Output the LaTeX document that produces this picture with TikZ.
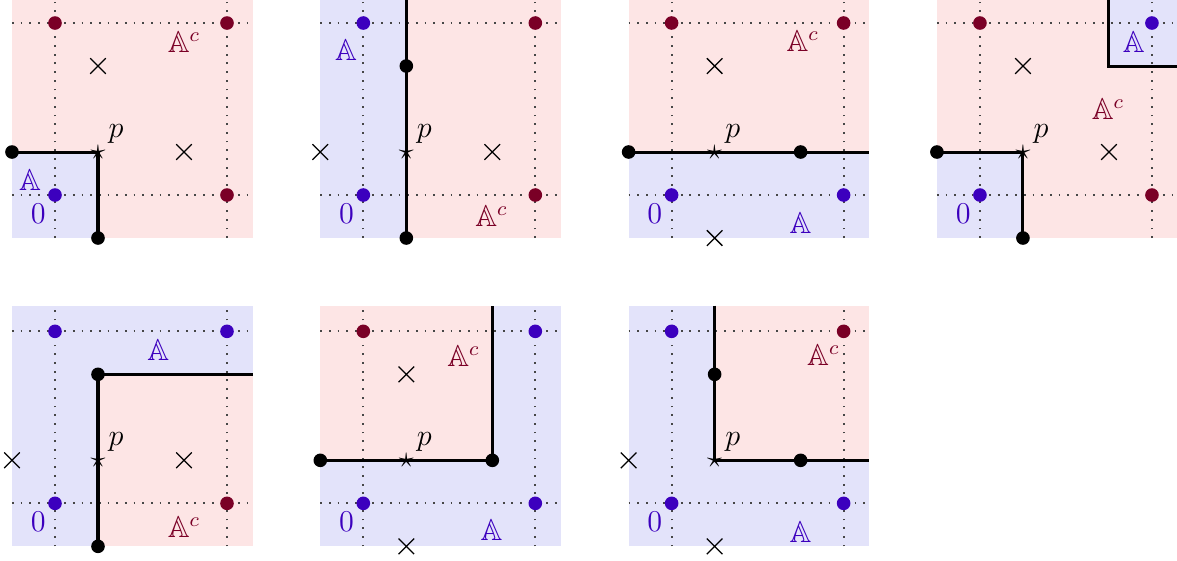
\documentclass[tikz,border=0pt]{standalone}
\usepackage{amssymb}
\usetikzlibrary{shapes.misc}
\definecolor{fillA}{RGB}{227,227,250}
\definecolor{fillC}{RGB}{253,229,229}
\definecolor{colA}{RGB}{60,0,190}
\definecolor{colC}{RGB}{122,0,38}
\definecolor{gridgray}{RGB}{70,70,70}
\tikzset{
  gridln/.style={gridgray, line width=0.7pt, dash pattern=on 0.7pt off 2.75pt},
  bound/.style={black, line width=1.2pt},
  bdot/.style={circle, fill=black, inner sep=0pt, minimum size=0.19cm},
  adot/.style={circle, fill=colA, inner sep=0pt, minimum size=0.19cm},
  cdot/.style={circle, fill=colC, inner sep=0pt, minimum size=0.19cm},
  xmark/.style={cross out, draw=black, line width=0.5pt, inner sep=0pt, minimum size=0.2cm},
  starmark/.style={inner sep=0pt, font=\large},
  labA/.style={text=colA, inner sep=0pt, font=\large},
  labC/.style={text=colC, inner sep=0pt, font=\large},
  plab/.style={inner sep=0pt, font=\large},
}
\newcommand\mygrid{%
  \draw[gridln] (-1,0) -- (4.6,0) (-1,4) -- (4.6,4) (0,-1) -- (0,4.6) (4,-1) -- (4,4.6);}
\newcommand\mycommon[1]{%
  \node[starmark] (p#1) at (1,1) {$\star$};
  \node[plab] (pl#1) at (1.42,1.42) {$p$};
  \node[labA] (zero#1) at (-0.39,-0.44) {$0$};}
\begin{document}
\begin{tikzpicture}[x=0.6cm,y=0.6cm]
\useasboundingbox (-1.279,-8.488) rectangle (26.093,4.535);

% ---------- Panel 1 ----------
\begin{scope}[shift={(0,0)}]
  \fill[fillC] (-1,-1) rectangle (4.6,4.6);
  \fill[fillA] (-1,-1) rectangle (1,1);
  \mygrid
  \node[bdot] (l1) at (-1,1) {};
  \node[bdot] (b1) at (1,-1) {};
  \coordinate (c1) at (1,1);
  \draw[bound] (l1.center) -- (c1) -- (b1.center);
  \node[adot] (o1) at (0,0) {};
  \node[cdot] (r1) at (4,0) {};
  \node[cdot] (t1) at (0,4) {};
  \node[cdot] (tr1) at (4,4) {};
  \node[xmark] (xa1) at (1,3) {};
  \node[xmark] (xb1) at (3,1) {};
  \mycommon{1}
  \node[labA] (A1) at (-0.58,0.35) {$\mathbb{A}$};
  \node[labC] (C1) at (3.0,3.55) {$\mathbb{A}^c$};
\end{scope}

% ---------- Panel 2 ----------
\begin{scope}[shift={(7.17,0)}]
  \fill[fillA] (-1,-1) rectangle (4.6,4.6);
  \fill[fillC] (1,-1) rectangle (4.6,4.6);
  \mygrid
  \node[bdot] (b2) at (1,-1) {};
  \node[bdot] (u2) at (1,3) {};
  \coordinate (top2) at (1,4.6);
  \draw[bound] (b2.center) -- (top2);
  \node[adot] (o2) at (0,0) {};
  \node[cdot] (r2) at (4,0) {};
  \node[adot] (t2) at (0,4) {};
  \node[cdot] (tr2) at (4,4) {};
  \node[xmark] (xa2) at (-1,1) {};
  \node[xmark] (xb2) at (3,1) {};
  \mycommon{2}
  \node[labA] (A2) at (-0.4,3.37) {$\mathbb{A}$};
  \node[labC] (C2) at (2.98,-0.5) {$\mathbb{A}^c$};
\end{scope}

% ---------- Panel 3 ----------
\begin{scope}[shift={(14.34,0)}]
  \fill[fillC] (-1,-1) rectangle (4.6,4.6);
  \fill[fillA] (-1,-1) rectangle (4.6,1);
  \mygrid
  \node[bdot] (l3) at (-1,1) {};
  \node[bdot] (m3) at (3,1) {};
  \coordinate (e3) at (4.6,1);
  \draw[bound] (l3.center) -- (e3);
  \node[adot] (o3) at (0,0) {};
  \node[adot] (r3) at (4,0) {};
  \node[cdot] (t3) at (0,4) {};
  \node[cdot] (tr3) at (4,4) {};
  \node[xmark] (xa3) at (1,3) {};
  \node[xmark] (xb3) at (1,-1) {};
  \mycommon{3}
  \node[labA] (A3) at (3.0,-0.65) {$\mathbb{A}$};
  \node[labC] (C3) at (3.05,3.57) {$\mathbb{A}^c$};
\end{scope}

% ---------- Panel 4 ----------
\begin{scope}[shift={(21.51,0)}]
  \fill[fillC] (-1,-1) rectangle (4.6,4.6);
  \fill[fillA] (-1,-1) rectangle (1,1);
  \fill[fillA] (3,3) rectangle (4.6,4.6);
  \mygrid
  \node[bdot] (l4) at (-1,1) {};
  \node[bdot] (b4) at (1,-1) {};
  \coordinate (c4) at (1,1);
  \draw[bound] (l4.center) -- (c4) -- (b4.center);
  \coordinate (ut4) at (3,4.6);
  \coordinate (uc4) at (3,3);
  \coordinate (ur4) at (4.6,3);
  \draw[bound] (ut4) -- (uc4) -- (ur4);
  \node[adot] (o4) at (0,0) {};
  \node[cdot] (r4) at (4,0) {};
  \node[cdot] (t4) at (0,4) {};
  \node[adot] (tr4) at (4,4) {};
  \node[xmark] (xa4) at (1,3) {};
  \node[xmark] (xb4) at (3,1) {};
  \mycommon{4}
  \node[labA] (A4) at (3.58,3.56) {$\mathbb{A}$};
  \node[labC] (C4) at (2.98,2.0) {$\mathbb{A}^c$};
\end{scope}

% ---------- Panel 5 ----------
\begin{scope}[shift={(0,-7.17)}]
  \fill[fillA] (-1,-1) rectangle (4.6,4.6);
  \fill[fillC] (1,-1) rectangle (4.6,3);
  \mygrid
  \node[bdot] (b5) at (1,-1) {};
  \node[bdot] (u5) at (1,3) {};
  \coordinate (e5) at (4.6,3);
  \draw[bound] (b5.center) -- (u5.center) -- (e5);
  \node[adot] (o5) at (0,0) {};
  \node[cdot] (r5) at (4,0) {};
  \node[adot] (t5) at (0,4) {};
  \node[adot] (tr5) at (4,4) {};
  \node[xmark] (xa5) at (-1,1) {};
  \node[xmark] (xb5) at (3,1) {};
  \mycommon{5}
  \node[labA] (A5) at (2.4,3.56) {$\mathbb{A}$};
  \node[labC] (C5) at (3.0,-0.55) {$\mathbb{A}^c$};
\end{scope}

% ---------- Panel 6 ----------
\begin{scope}[shift={(7.17,-7.17)}]
  \fill[fillA] (-1,-1) rectangle (4.6,4.6);
  \fill[fillC] (-1,1) rectangle (3,4.6);
  \mygrid
  \node[bdot] (l6) at (-1,1) {};
  \node[bdot] (m6) at (3,1) {};
  \coordinate (top6) at (3,4.6);
  \draw[bound] (l6.center) -- (m6.center) -- (top6);
  \node[adot] (o6) at (0,0) {};
  \node[adot] (r6) at (4,0) {};
  \node[cdot] (t6) at (0,4) {};
  \node[adot] (tr6) at (4,4) {};
  \node[xmark] (xa6) at (1,3) {};
  \node[xmark] (xb6) at (1,-1) {};
  \mycommon{6}
  \node[labA] (A6) at (2.98,-0.63) {$\mathbb{A}$};
  \node[labC] (C6) at (2.33,3.42) {$\mathbb{A}^c$};
\end{scope}

% ---------- Panel 7 ----------
\begin{scope}[shift={(14.34,-7.17)}]
  \fill[fillA] (-1,-1) rectangle (4.6,4.6);
  \fill[fillC] (1,1) rectangle (4.6,4.6);
  \mygrid
  \node[bdot] (u7) at (1,3) {};
  \node[bdot] (m7) at (3,1) {};
  \coordinate (top7) at (1,4.6);
  \coordinate (c7) at (1,1);
  \coordinate (e7) at (4.6,1);
  \draw[bound] (top7) -- (c7) -- (e7);
  \node[adot] (o7) at (0,0) {};
  \node[adot] (r7) at (4,0) {};
  \node[adot] (t7) at (0,4) {};
  \node[cdot] (tr7) at (4,4) {};
  \node[xmark] (xa7) at (-1,1) {};
  \node[xmark] (xb7) at (1,-1) {};
  \mycommon{7}
  \node[labA] (A7) at (3.0,-0.67) {$\mathbb{A}$};
  \node[labC] (C7) at (3.53,3.44) {$\mathbb{A}^c$};
\end{scope}
\end{tikzpicture}
\end{document}
